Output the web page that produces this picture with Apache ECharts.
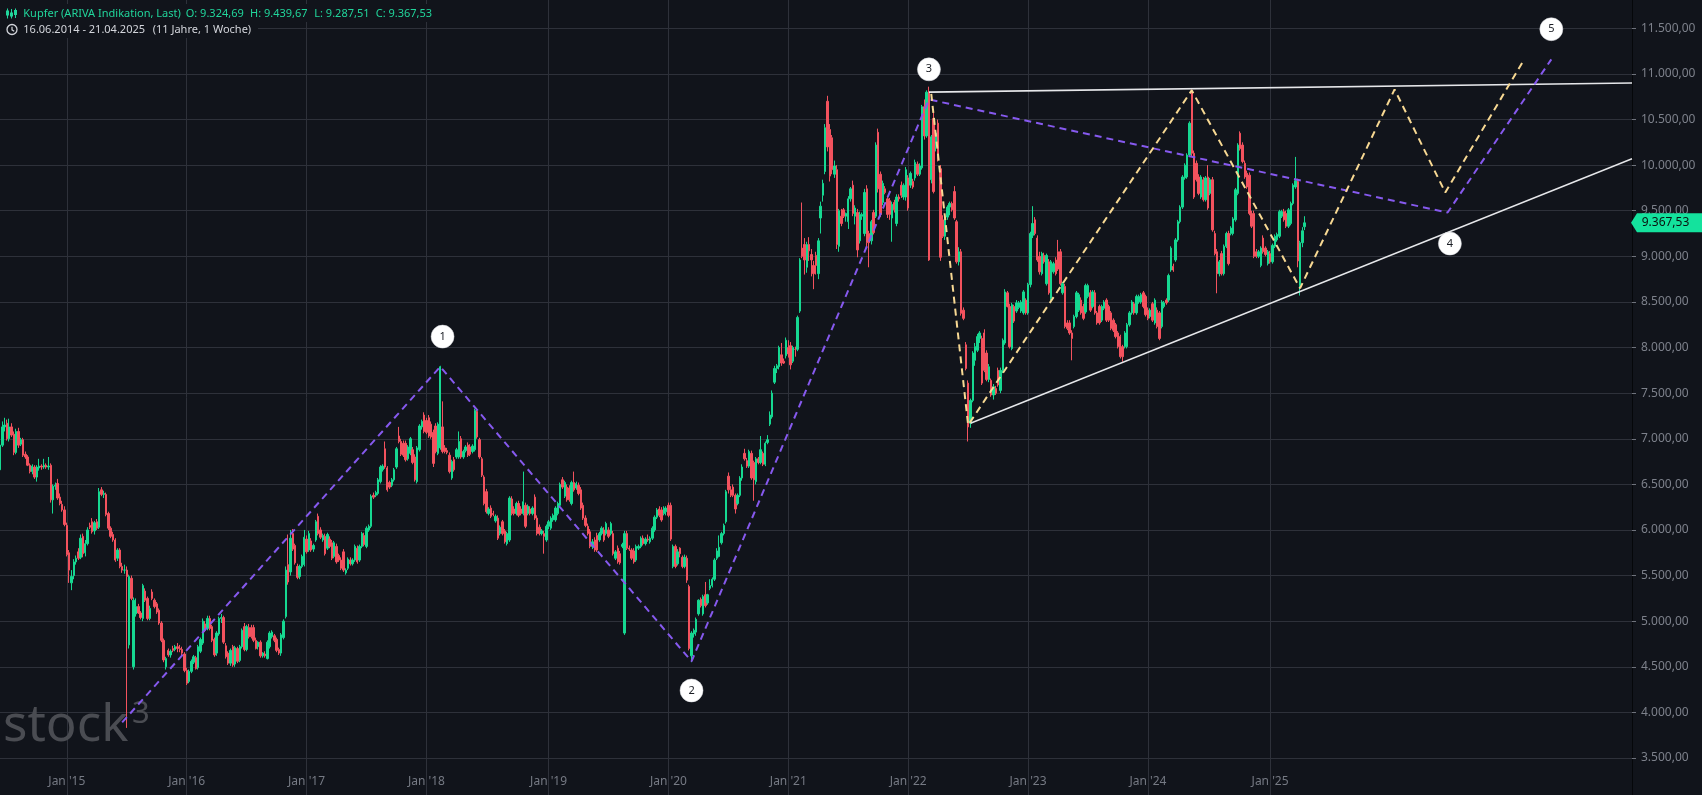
<!DOCTYPE html>
<html><head><meta charset="utf-8">
<script src="https://cdn.jsdelivr.net/npm/echarts/dist/echarts.min.js"></script>
<style>html,body{margin:0;padding:0;background:#11141b;overflow:hidden}#c{width:1702px;height:795px}</style>
</head><body><div id="c"></div>
<script>
// ---------- DATA (weekly candles: [open, high, low, close]) ----------
const START_DATE = '2014-06-16';
const WEEKS_ON_AXIS = 709;
const ohlc2014 = [[6660,6960,6640,6930],[6930,7190,6910,7130],[7130,7230,7080,7150],[7170,7210,6980,7000],[7000,7220,6970,7130],[7130,7170,7020,7040],[7050,7080,6820,6850],[6850,7110,6830,7080],[7080,7120,6900,6930],[6940,7010,6920,6990],[6990,7010,6800,6820],[6830,6860,6780,6800],[6800,6820,6700,6710],[6710,6730,6620,6640],[6640,6720,6610,6700],[6690,6710,6560,6580],[6580,6710,6530,6690],[6680,6780,6650,6700],[6700,6720,6660,6690],[6690,6780,6670,6710],[6710,6730,6670,6690],[6690,6800,6660,6700],[6710,6730,6300,6330],[6330,6500,6180,6480],[6480,6520,6440,6490],[6510,6560,6330,6350],[6360,6400,6270,6290],[6280,6320,6200,6220],[6220,6260,6040,6060]];
const ohlc2015 = [[6050,6080,5710,5730],[5750,5780,5420,5560],[5420,5560,5340,5490],[5500,5680,5460,5650],[5650,5720,5620,5690],[5760,5800,5670,5690],[5700,5950,5680,5910],[5930,5960,5700,5740],[5750,5890,5710,5850],[5850,6030,5830,6000],[6050,6080,6010,6030],[6090,6130,5960,5980],[5990,6100,5950,6080],[6090,6120,6000,6020],[6030,6460,6010,6420],[6440,6470,6370,6390],[6390,6430,6350,6400],[6390,6410,6150,6170],[6180,6200,6000,6020],[6020,6040,5910,5930],[5950,5980,5870,5890],[5890,5910,5650,5670],[5690,5800,5660,5780],[5780,5800,5580,5600],[5600,5640,5530,5560],[5560,5620,5520,5560],[5560,5600,3830,5490],[4740,5510,4700,5490],[5470,5500,5230,5250],[4500,5260,4470,5230],[5080,5250,5050,5160],[5160,5190,5080,5090],[5090,5110,5020,5040],[5030,5410,5000,5390],[5330,5360,5210,5230],[5250,5270,5010,5030],[5030,5170,5010,5140],[5320,5350,5230,5250],[5230,5250,5140,5160],[5190,5210,5080,5100],[5120,5140,4960,4980],[4980,5000,4770,4790],[4790,4810,4550,4575],[4500,4610,4470,4590],[4680,4700,4610,4630],[4630,4690,4600,4670],[4700,4730,4660,4680],[4690,4740,4670,4720],[4720,4760,4660,4700],[4700,4740,4660,4690],[4690,4720,4620,4650],[4640,4660,4440,4460]];
const ohlc2016 = [[4460,4490,4300,4320],[4340,4470,4320,4450],[4450,4580,4430,4560],[4550,4630,4530,4610],[4600,4620,4470,4480],[4490,4740,4470,4720],[4670,4820,4650,4800],[4760,5030,4740,5000],[4970,5000,4880,4900],[4920,5060,4900,5030],[5030,5060,4900,4920],[4940,4960,4770,4790],[4800,4820,4610,4630],[4650,4890,4620,4870],[4860,5050,4840,5030],[5030,5080,4980,5040],[5040,5060,4750,4770],[4730,4760,4590,4610],[4650,4670,4520,4540],[4540,4700,4510,4680],[4720,4740,4500,4520],[4530,4730,4500,4710],[4700,4720,4540,4560],[4570,4740,4550,4720],[4720,4920,4700,4900],[4940,4980,4670,4690],[4690,4960,4670,4940],[4930,4970,4810,4830],[4930,4960,4810,4830],[4930,4960,4770,4790],[4790,4820,4690,4700],[4720,4780,4690,4770],[4770,4790,4600,4620],[4620,4660,4600,4650],[4640,4670,4600,4620],[4590,4790,4580,4770],[4720,4890,4700,4870],[4830,4900,4810,4880],[4840,4860,4770,4790],[4800,4820,4660,4680],[4690,4710,4630,4650],[4650,4870,4620,4850],[4820,5020,4800,5000],[5050,5600,5030,5560],[5620,5950,5400,5430],[5540,6000,5500,5910],[5960,6010,5770,5790],[5830,5850,5620,5640],[5600,5630,5460,5480],[5490,5620,5460,5600],[5600,5730,5580,5710],[5620,6000,5600,5920]];
const ohlc2017 = [[5900,5940,5740,5760],[5780,5990,5760,5960],[5880,5910,5760,5780],[5790,5850,5760,5830],[5890,6110,5870,6090],[6150,6180,5940,5960],[6000,6030,5900,5920],[5890,5960,5870,5940],[5930,5960,5720,5740],[5800,5970,5780,5950],[5900,5930,5800,5820],[5860,5890,5670,5690],[5710,5880,5690,5860],[5820,5850,5630,5650],[5720,5740,5650,5670],[5670,5700,5560,5580],[5760,5790,5540,5560],[5530,5580,5510,5560],[5580,5700,5560,5680],[5670,5700,5610,5630],[5630,5690,5610,5670],[5670,5840,5650,5820],[5800,5830,5630,5650],[5670,5840,5650,5820],[5820,5980,5800,5960],[5940,5970,5820,5840],[5820,6040,5800,6020],[6000,6060,5980,6040],[6040,6390,6020,6370],[6380,6410,6340,6360],[6380,6430,6360,6410],[6400,6570,6380,6550],[6530,6710,6510,6690],[6660,6720,6640,6700],[6890,6970,6670,6690],[6680,6700,6420,6440],[6520,6540,6450,6470],[6490,6570,6470,6550],[6550,6680,6530,6660],[6690,6910,6670,6890],[7030,7130,6950,6970],[6970,7000,6810,6830],[6950,6980,6800,6820],[6950,6980,6750,6770],[6780,6930,6760,6910],[6840,7020,6820,7000],[6880,6910,6720,6740],[6800,6830,6530,6550],[6530,6920,6510,6900],[6880,7160,6860,7140],[7130,7210,7100,7190],[7260,7290,7060,7080]];
const ohlc2018 = [[7200,7230,7050,7070],[7230,7260,7010,7030],[7160,7190,7000,7020],[7070,7100,6690,6730],[7140,7170,6840,6860],[6840,7180,6820,7160],[6900,7800,6880,7790],[7130,7410,6840,6860],[6900,6930,6840,6860],[6870,6900,6830,6850],[6820,6850,6620,6640],[6570,6770,6550,6750],[6770,6800,6640,6660],[6800,6900,6780,6880],[6800,7080,6780,6970],[7000,7030,6780,6800],[6800,6880,6780,6860],[6870,6930,6850,6910],[6930,6960,6800,6820],[6910,6940,6810,6830],[6860,6940,6840,6920],[6880,7330,6860,7310],[7300,7330,7000,7020],[6990,7010,6780,6800],[6780,6800,6580,6600],[6580,6600,6270,6290],[6420,6450,6180,6200],[6180,6250,6160,6230],[6240,6270,6130,6150],[6180,6210,6150,6170],[6100,6170,6080,6150],[6130,6160,5890,5910],[5960,6050,5940,6030],[6090,6110,5940,5960],[5990,6010,5850,5870],[5850,5980,5830,5960],[5890,6370,5870,6350],[6340,6370,6160,6180],[6230,6260,6160,6180],[6180,6310,6160,6290],[6290,6320,6140,6160],[6230,6260,6160,6180],[6180,6640,6160,6310],[6270,6300,6020,6040],[6180,6280,6160,6260],[6230,6260,6160,6180],[6180,6260,6160,6240],[6360,6390,6110,6130],[6130,6160,5940,5960],[6030,6060,5940,5960],[5960,6010,5940,5990],[5960,5990,5740,5930]];
const ohlc2019 = [[5890,6060,5870,6040],[6040,6110,6010,6090],[6020,6150,6000,6130],[6110,6180,6090,6160],[6110,6260,6090,6240],[6180,6310,6160,6290],[6270,6520,6250,6500],[6550,6580,6450,6470],[6370,6540,6350,6520],[6470,6500,6310,6330],[6460,6490,6310,6330],[6290,6540,6270,6520],[6520,6640,6420,6440],[6460,6530,6440,6510],[6490,6520,6380,6400],[6440,6470,6220,6240],[6270,6300,6110,6130],[6130,6160,6030,6050],[6040,6070,5940,5960],[5980,6010,5800,5820],[5820,5900,5790,5870],[5890,5920,5760,5780],[5940,5970,5760,5780],[5890,5980,5870,5960],[5960,6040,5940,6020],[6000,6030,5870,5890],[5960,6090,5940,6070],[6000,6030,5910,5930],[5960,6090,5940,6070],[5960,5990,5720,5740],[5690,5780,5670,5760],[5800,5830,5630,5650],[5740,5770,5620,5640],[5820,5860,5800,5840],[4870,5990,4850,5960],[5960,5990,5780,5800],[5800,5830,5770,5790],[5780,5800,5670,5690],[5770,5800,5630,5650],[5670,5840,5650,5820],[5800,5840,5780,5820],[5820,5930,5800,5910],[5910,5940,5830,5850],[5850,5920,5830,5900],[5900,5950,5870,5890],[5870,5930,5850,5910],[5910,6040,5890,6020],[6000,6160,5980,6140],[6140,6240,6120,6220],[6230,6260,6140,6160],[6220,6250,6090,6110],[6180,6260,6160,6240]];
const ohlc2020 = [[6200,6260,6160,6240],[6270,6300,6140,6160],[6270,6300,5880,5900],[5600,5840,5580,5820],[5820,5840,5580,5600],[5630,5790,5610,5760],[5800,5810,5700,5740],[5700,5720,5580,5600],[5600,5730,5580,5700],[5690,5720,5420,5450],[5380,5400,4680,4700],[4620,4890,4550,4870],[4860,4920,4820,4900],[4880,5040,4840,5020],[5080,5240,5060,5230],[5240,5260,5150,5170],[5080,5290,5060,5270],[5290,5430,5150,5170],[5200,5300,5180,5290],[5360,5460,5340,5390],[5390,5480,5370,5460],[5460,5690,5440,5670],[5690,5800,5670,5770],[5710,5940,5700,5810],[5860,5980,5840,5960],[5960,6070,5940,6050],[6090,6440,6070,6420],[6590,6630,6400,6440],[6440,6480,6360,6380],[6470,6500,6360,6380],[6380,6400,6180,6230],[6290,6400,6270,6380],[6380,6590,6360,6570],[6570,6720,6540,6690],[6840,6890,6760,6780],[6760,6790,6680,6700],[6700,6880,6680,6860],[6840,6870,6550,6570],[6740,6760,6320,6550],[6530,6800,6500,6780],[6780,6800,6720,6740],[6740,7030,6720,6880],[6840,6860,6700,6720],[6720,6970,6700,6950],[6960,7040,6940,6990],[7160,7300,7140,7260],[7240,7530,7220,7500],[7620,7800,7600,7770],[7770,7820,7720,7800],[7790,8020,7760,8000],[7920,8050,7800,7830],[7850,7880,7820,7830],[7910,8110,7880,8080]];
const ohlc2021 = [[8000,8080,7890,7930],[8020,8060,7760,7810],[7850,8020,7830,8000],[7980,8010,7900,7980],[7980,8350,7960,8330],[8400,8980,8380,8960],[9090,9590,8980,9000],[9130,9200,8800,8960],[8880,9160,8820,9130],[9130,9210,8950,9060],[9020,9080,8780,8960],[8900,8950,8640,8810],[9010,9050,8800,8900],[8810,9200,8750,9170],[9420,9600,9250,9550],[9670,9840,9600,9800],[9930,10450,9900,10410],[10700,10760,10150,10200],[10390,10450,9820,9880],[10300,10330,9900,9950],[9900,10050,9860,9990],[9950,10000,9080,9130],[9110,9520,9050,9500],[9440,9520,9330,9360],[9510,9530,9420,9440],[9440,9480,9380,9470],[9380,9660,9300,9630],[9630,9760,9600,9740],[9780,9830,9440,9470],[9440,9560,9350,9530],[9480,9520,8990,9070],[9170,9490,9140,9460],[9440,9480,9400,9460],[9250,9740,9220,9700],[9740,9780,9100,9150],[9250,9280,8880,9150],[9170,9400,9130,9380],[9480,9510,9240,9260],[9440,10250,9420,10220],[10360,10400,9700,9740],[9900,9930,9430,9460],[9590,9830,9560,9800],[9740,9770,9680,9700],[9630,9660,9420,9460],[9610,9640,9400,9460],[9420,9600,9160,9570],[9590,9620,9480,9510],[9360,9680,9330,9650],[9650,9680,9600,9630],[9780,9820,9640,9670],[9650,9800,9620,9780],[9650,9980,9610,9950]];
const ohlc2022 = [[9860,9890,9500,9530],[9780,9930,9750,9910],[9820,9850,9740,9760],[9860,10060,9830,10030],[10010,10040,9880,9900],[9900,10020,9880,9990],[9970,10660,9950,10640],[10640,10720,10280,10320],[10320,10820,10300,10800],[10800,10860,8950,8960],[9840,10330,9800,10310],[10510,10590,9690,9710],[10200,10380,10150,10350],[10460,10500,10040,10060],[9960,10000,8950,8990],[9400,9450,9200,9220],[9220,9450,9180,9430],[9430,9560,9400,9540],[9540,9600,9450,9580],[9580,9600,9490,9510],[9710,9770,9400,9420],[9380,9400,8920,8940],[8940,9100,8900,9050],[9050,9080,8350,8375],[8410,8440,8300,8320],[8030,8060,7750,7770],[7610,7640,6970,7130],[7170,7440,7120,7420],[7420,7960,7400,7940],[7860,8050,7800,8010],[7970,8150,7950,8120],[8100,8180,8050,8160],[8100,8130,7590,7610],[8160,8200,7730,7750],[7940,7970,7630,7650],[7650,7820,7620,7790],[7640,7660,7460,7480],[7480,7600,7430,7570],[7550,7580,7480,7500],[7750,7780,7570,7590],[7530,7780,7500,7750],[7750,8100,7720,8080],[8050,8640,8030,8610],[8600,8620,8440,8450],[8450,8480,7990,8010],[7990,8490,7970,8470],[8450,8470,8270,8290],[8400,8520,8380,8490],[8440,8510,8420,8490],[8400,8520,8380,8500],[8380,8630,8360,8610],[8520,8540,8360,8380]];
const ohlc2023 = [[8380,8710,8360,8690],[8690,9270,8660,9250],[9230,9550,9200,9360],[9400,9430,9230,9250],[9200,9230,8940,8960],[9000,9050,8800,8830],[8810,9050,8790,9030],[9010,9040,8920,8940],[8700,9030,8680,9010],[8940,8970,8580,8600],[8540,8960,8520,8940],[8830,8940,8810,8920],[8960,8990,8790,8810],[9050,9180,8840,8860],[9050,9080,8680,8700],[8600,8720,8580,8700],[8670,8700,8210,8230],[8270,8300,8190,8210],[8270,8300,8140,8160],[8160,8190,7860,8100],[8230,8360,8210,8340],[8340,8620,8320,8600],[8410,8600,8390,8580],[8520,8550,8360,8380],[8450,8480,8300,8320],[8390,8700,8370,8680],[8560,8700,8540,8680],[8600,8630,8390,8410],[8450,8630,8430,8610],[8600,8630,8360,8380],[8380,8400,8250,8270],[8450,8470,8250,8270],[8300,8470,8280,8450],[8430,8520,8410,8500],[8520,8540,8280,8300],[8450,8470,8280,8300],[8380,8400,8190,8210],[8300,8320,8170,8190],[8250,8270,8100,8120],[8160,8180,7990,8010],[8120,8140,7880,7900],[8010,8030,7845,7900],[8010,8180,7990,8160],[8010,8270,7990,8250],[8250,8400,8230,8380],[8380,8520,8360,8500],[8480,8500,8360,8380],[8380,8580,8360,8560],[8500,8580,8480,8560],[8500,8600,8480,8580],[8600,8620,8430,8450],[8560,8580,8340,8360]];
const ohlc2024 = [[8410,8440,8300,8320],[8340,8430,8320,8410],[8480,8500,8280,8300],[8270,8540,8250,8520],[8410,8440,8210,8230],[8380,8400,8080,8100],[8230,8520,8210,8500],[8450,8510,8430,8490],[8520,8540,8470,8490],[8520,8810,8500,8790],[8850,9110,8830,9090],[8890,8920,8830,8850],[8960,9200,8940,9180],[9180,9400,9160,9380],[9380,9560,9360,9540],[9540,9890,9520,9870],[9860,10020,9840,10000],[9870,10130,9850,10110],[10110,10480,10090,10460],[10800,10830,10100,10130],[10130,10160,9630,9650],[10020,10050,9820,9840],[9870,9900,9670,9690],[9650,9890,9630,9870],[9840,9870,9600,9620],[9620,9880,9600,9860],[9870,10000,9510,9530],[9690,9860,9670,9840],[9840,9870,9270,9290],[9250,9280,9010,9030],[9050,9080,8595,8810],[8810,8960,8780,8940],[9030,9060,8790,8810],[8810,9130,8790,9110],[9110,9270,9090,9250],[9250,9280,8900,8920],[9250,9330,9230,9310],[9250,9430,9230,9410],[9400,9750,9380,9730],[9690,10240,9670,10220],[10350,10370,10160,10180],[10220,10250,10020,10040],[10020,10050,9850,9870],[9910,9940,9740,9760],[9890,9920,9450,9470],[9470,9500,9310,9330],[9470,9500,8980,9000],[9050,9080,8980,9000],[9000,9070,8980,9050],[8900,9110,8880,9090],[9200,9230,9030,9050],[9090,9110,9000,9020],[8920,9070,8900,9050]];
const ohlc2025 = [[9030,9060,8920,8940],[8940,9140,8920,9120],[9110,9240,9090,9220],[9180,9260,9160,9240],[9220,9510,9200,9490],[9440,9510,9420,9490],[9490,9520,9380,9400],[9470,9500,9310,9330],[9330,9530,9310,9510],[9360,9600,9340,9580],[9580,9800,9560,9780],[9760,10090,9740,9830],[9820,9850,8880,8950],[8680,9170,8570,9150],[9150,9320,9100,9280],[9324.69,9439.67,9287.51,9367.53]];

// annotation drawings, in chart coordinates [week, price]
const waveMain = [['2015-06-22',3890],['2018-02-12',7790],['2020-03-16',4560],['2022-03-07',10720],['2026-06-29',9480],['2027-05-10',11160]];
const waveSub = [['2022-03-14',10780],['2022-07-04',7150],['2024-05-13',10820],['2025-04-07',8650],['2026-01-19',10830],['2026-06-22',9700],['2027-02-15',11150]];
const resistanceLine = [['2022-03-07',10800],['END',10900]];
const supportLine = [['2022-07-11',7170],['END',10070]];
const waveLabels = [['2018-02-19',8120,'1'],['2020-03-16',4240,'2'],['2022-03-07',11050,'3'],['2026-07-06',9140,'4'],['2027-05-10',11490,'5']];
const priceTicks = {min: 3000, max: 12000, step: 500};

// ---------- BUILD ----------
const candles = [].concat(ohlc2014, ohlc2015, ohlc2016, ohlc2017, ohlc2018, ohlc2019, ohlc2020, ohlc2021, ohlc2022, ohlc2023, ohlc2024, ohlc2025);
const categories = [];
const t0 = Date.parse(START_DATE + 'T00:00:00Z');
for (let i = 0; i < WEEKS_ON_AXIS; i++) categories.push(new Date(t0 + i * 7 * 86400000).toISOString().slice(0, 10));
const lastCat = categories[categories.length - 1];
const fixEnd = arr => arr.map(p => [p[0] === 'END' ? lastCat : p[0], p[1]]);
const yearStart = categories.map((d, i) => i < candles.length && d.slice(5, 7) === '01' && Number(d.slice(8, 10)) <= 7);

function fmt(v) {
  const s = Math.abs(v).toFixed(2).split('.');
  return (v < 0 ? '-' : '') + s[0].replace(/\B(?=(\d{3})+(?!\d))/g, '.') + ',' + s[1];
}

const BG = '#11141b', GRID = '#2e313a', UP = '#16d891', DOWN = '#f3525e';
const FONT = 'Noto Sans';
const chart = echarts.init(document.getElementById('c'), null, {renderer: 'canvas'});

const option = {
  backgroundColor: BG,
  animation: false,
  textStyle: {fontFamily: FONT},
  grid: {left: 0, right: 70, top: -17.3, bottom: -8.6, containLabel: false, outerBoundsMode: 'none'},
  xAxis: {
    type: 'category', data: categories, boundaryGap: false,
    axisLine: {show: false}, axisTick: {show: false},
    axisLabel: {
      inside: true, margin: 22, verticalAlign: 'middle', color: '#767a84', fontSize: 12, fontFamily: FONT,
      interval: (i) => yearStart[i],
      formatter: (v) => "Jan '" + v.slice(2, 4)
    },
    splitLine: {show: true, interval: (i) => yearStart[i], lineStyle: {color: GRID, width: 1}}
  },
  yAxis: {
    type: 'value', position: 'right', min: priceTicks.min, max: priceTicks.max, interval: priceTicks.step,
    axisLine: {show: true, lineStyle: {color: '#05070a', width: 1}},
    axisTick: {show: true, length: 4, lineStyle: {color: '#6f737c'}},
    axisLabel: {margin: 9, color: '#7d818b', fontSize: 12, fontFamily: FONT, formatter: fmt},
    splitLine: {show: true, lineStyle: {color: GRID, width: 1}}
  },
  series: [
    {
      type: 'candlestick', name: 'Kupfer', z: 2,
      data: candles.map(c => [c[0], c[3], c[2], c[1]]),
      barWidth: 1.9,
      itemStyle: {color: UP, color0: DOWN, borderColor: UP, borderColor0: DOWN, borderWidth: 1}
    },
    {type: 'line', z: 4, data: fixEnd(resistanceLine), symbol: 'none', lineStyle: {color: '#e6e7ea', width: 1.6}, silent: true},
    {type: 'line', z: 4, data: fixEnd(supportLine), symbol: 'none', lineStyle: {color: '#e6e7ea', width: 1.4}, silent: true},
    {type: 'line', z: 5, data: waveMain, symbol: 'none', lineStyle: {color: '#8659ee', width: 2, type: [7, 5]}, silent: true},
    {type: 'line', z: 5, data: waveSub, symbol: 'none', lineStyle: {color: '#f8d993', width: 2, type: [7, 5]}, silent: true},
    {
      type: 'scatter', z: 6, data: waveLabels, symbol: 'circle', symbolSize: 23,
      itemStyle: {color: '#ffffff', opacity: 1, borderColor: '#d0d2d8', borderWidth: 0.5},
      label: {show: true, position: 'inside', formatter: p => p.data[2], color: '#1a1d24', fontSize: 11, fontFamily: FONT}
    }
  ]
};
chart.setOption(option);

// header, watermark and last-price tag
const last = candles[candles.length - 1];
const yLast = chart.convertToPixel({yAxisIndex: 0}, last[3]);
const xRight = chart.convertToPixel({xAxisIndex: 0}, lastCat);
const HEAD_G = '#21d59b', HEAD_W = '#d3d5db';
const t = (text, x, y, fill, size, extra) => Object.assign({type: 'text', x, y, z: 50, style: {text, fill, font: (size || 11) + 'px "' + FONT + '"', verticalAlign: 'middle', align: 'left'}}, extra || {});
chart.setOption({
  graphic: [
    {type: 'rect', z: 40, shape: {x: 0, y: 4, width: 437, height: 18}, style: {fill: BG}},
    {type: 'rect', z: 40, shape: {x: 0, y: 21, width: 258, height: 17}, style: {fill: BG}},
    // candle icon
    {type: 'line', z: 50, shape: {x1: 7.5, y1: 8.5, x2: 7.5, y2: 18.5}, style: {stroke: HEAD_G, lineWidth: 1}},
    {type: 'rect', z: 51, shape: {x: 6, y: 10.5, width: 3, height: 5}, style: {fill: HEAD_G}},
    {type: 'line', z: 50, shape: {x1: 11.5, y1: 9, x2: 11.5, y2: 18.5}, style: {stroke: HEAD_G, lineWidth: 1}},
    {type: 'rect', z: 51, shape: {x: 10, y: 12.5, width: 3, height: 4}, style: {fill: HEAD_G}},
    {type: 'line', z: 50, shape: {x1: 15.5, y1: 8.5, x2: 15.5, y2: 18}, style: {stroke: HEAD_G, lineWidth: 1}},
    {type: 'rect', z: 51, shape: {x: 14, y: 10, width: 3, height: 5}, style: {fill: HEAD_G}},
    t('Kupfer (ARIVA Indikation, Last)', 23.3, 13.5, HEAD_G),
    t('O: ' + fmt(last[0]), 185.7, 13.5, HEAD_G),
    t('H: ' + fmt(last[1]), 250, 13.5, HEAD_G),
    t('L: ' + fmt(last[2]), 314.3, 13.5, HEAD_G),
    t('C: ' + fmt(last[3]), 375.7, 13.5, HEAD_G),
    // clock icon
    {type: 'circle', z: 50, shape: {cx: 12, cy: 29.5, r: 5}, style: {stroke: HEAD_W, fill: 'none', lineWidth: 1.3}},
    {type: 'polyline', z: 50, shape: {points: [[12, 26.7], [12, 29.8], [14.2, 31.2]]}, style: {stroke: HEAD_W, fill: 'none', lineWidth: 1.2}},
    t(categories[0].split('-').reverse().join('.') + ' - ' + categories[candles.length - 1].split('-').reverse().join('.'), 23.3, 29.5, HEAD_W),
    t('(11 Jahre, 1 Woche)', 152.7, 29.5, HEAD_W),
    // watermark
    t('stock', 3, 726, '#4a4c52', 51, {z: 1}),
    t('3', 132, 714, '#4a4c52', 31, {z: 1}),
    // last price tag
    {type: 'polygon', z: 60, shape: {points: [[xRight - 1, yLast], [xRight + 5, yLast - 9.5], [1702, yLast - 9.5], [1702, yLast + 9.5], [xRight + 5, yLast + 9.5]]}, style: {fill: '#14e29d'}},
    t(fmt(last[3]), xRight + 9.7, yLast, '#0a120f', 12, {z: 61})
  ]
});
</script></body></html>
